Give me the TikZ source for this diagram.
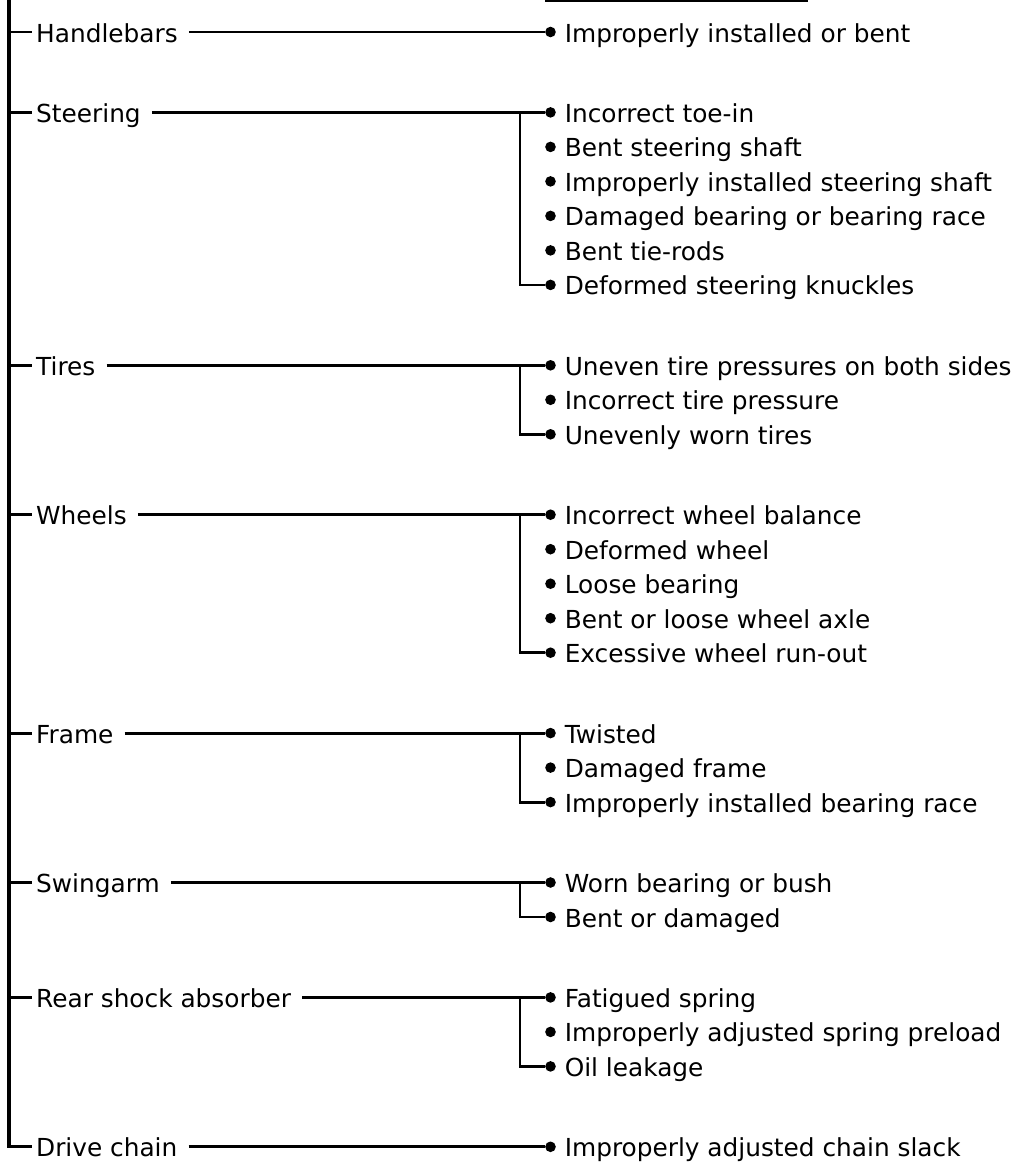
\documentclass[tikz,border=0pt]{standalone}
\usepackage{fontspec}
\setmainfont{DejaVu Sans}
\usetikzlibrary{calc}
\tikzset{
  conn/.style={line width=2.8pt},
  lead/.style={conn, shorten <=7pt},
  cat/.style={anchor=west, inner xsep=4pt, inner ysep=0pt, text height=20pt, text depth=0pt},
  item/.style={anchor=west, inner xsep=0pt, inner ysep=0pt, text height=20pt, text depth=0pt},
  trunkline/.style={line width=3.2pt},
}
\newcommand{\dotmark}{\tikz[baseline=-10pt]\fill (5.3pt,0pt) circle (5.3pt);\hspace{9pt}}

\begin{document}
\begin{tikzpicture}[x=1pt, y=-1pt, every node/.append style={font=\fontsize{24.8}{30}\selectfont}]
  \useasboundingbox (0,0) rectangle (1013,1167);
  \coordinate (trunk) at (9,0);
  \coordinate (brk) at (520,0);
  % cut-off rule at the top
  \coordinate (rl) at (545,1);
  \coordinate (rr) at (808,1);
  \draw[line width=2.2pt] (rl) -- (rr);
  % handlebars
  \node[cat] (hb) at (32,32) {Handlebars};
  \node[item] (hb1) at (545,32) {\dotmark Improperly installed or bent};
  \draw[lead] (hb) -- (hb1);
  % steering
  \node[cat] (st) at (32,112.4) {Steering};
  \node[item] (st1) at (545,112.4) {\dotmark Incorrect toe-in};
  \node[item] (st2) at (545,146.9) {\dotmark Bent steering shaft};
  \node[item] (st3) at (545,181.4) {\dotmark Improperly installed steering shaft};
  \node[item] (st4) at (545,215.9) {\dotmark Damaged bearing or bearing race};
  \node[item] (st5) at (545,250.4) {\dotmark Bent tie-rods};
  \node[item] (st6) at (545,284.9) {\dotmark Deformed steering knuckles};
  \draw[lead] (st) -- (st1);
  \draw[conn] (st1.west -| brk) |- (st6);
  % tires
  \node[cat] (ti) at (32,365.3) {Tires};
  \node[item] (ti1) at (545,365.3) {\dotmark Uneven tire pressures on both sides};
  \node[item] (ti2) at (545,399.8) {\dotmark Incorrect tire pressure};
  \node[item] (ti3) at (545,434.3) {\dotmark Unevenly worn tires};
  \draw[lead] (ti) -- (ti1);
  \draw[conn] (ti1.west -| brk) |- (ti3);
  % wheels
  \node[cat] (wh) at (32,514.7) {Wheels};
  \node[item] (wh1) at (545,514.7) {\dotmark Incorrect wheel balance};
  \node[item] (wh2) at (545,549.2) {\dotmark Deformed wheel};
  \node[item] (wh3) at (545,583.7) {\dotmark Loose bearing};
  \node[item] (wh4) at (545,618.2) {\dotmark Bent or loose wheel axle};
  \node[item] (wh5) at (545,652.7) {\dotmark Excessive wheel run-out};
  \draw[lead] (wh) -- (wh1);
  \draw[conn] (wh1.west -| brk) |- (wh5);
  % frame
  \node[cat] (fr) at (32,733.1) {Frame};
  \node[item] (fr1) at (545,733.1) {\dotmark Twisted};
  \node[item] (fr2) at (545,767.6) {\dotmark Damaged frame};
  \node[item] (fr3) at (545,802.1) {\dotmark Improperly installed bearing race};
  \draw[lead] (fr) -- (fr1);
  \draw[conn] (fr1.west -| brk) |- (fr3);
  % swingarm
  \node[cat] (sw) at (32,882.5) {Swingarm};
  \node[item] (sw1) at (545,882.5) {\dotmark Worn bearing or bush};
  \node[item] (sw2) at (545,917) {\dotmark Bent or damaged};
  \draw[lead] (sw) -- (sw1);
  \draw[conn] (sw1.west -| brk) |- (sw2);
  % rear shock absorber
  \node[cat] (rs) at (32,997.4) {Rear shock absorber};
  \node[item] (rs1) at (545,997.4) {\dotmark Fatigued spring};
  \node[item] (rs2) at (545,1031.9) {\dotmark Improperly adjusted spring preload};
  \node[item] (rs3) at (545,1066.4) {\dotmark Oil leakage};
  \draw[lead] (rs) -- (rs1);
  \draw[conn] (rs1.west -| brk) |- (rs3);
  % drive chain
  \node[cat] (dc) at (32,1146.8) {Drive chain};
  \node[item] (dc1) at (545,1146.8) {\dotmark Improperly adjusted chain slack};
  \draw[lead] (dc) -- (dc1);
  % trunk
  \draw[trunkline] (trunk) |- (dc);
  \foreach \n in {hb,st,ti,wh,fr,sw,rs}
    \draw[conn] (\n.west -| trunk) -- (\n);
\end{tikzpicture}
\end{document}
